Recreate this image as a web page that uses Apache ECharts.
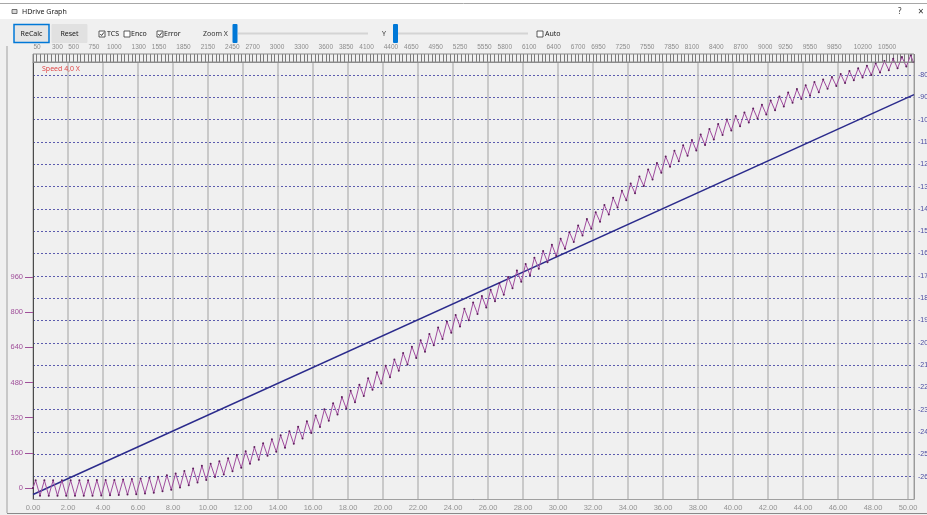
<!DOCTYPE html>
<html>
<head>
<meta charset="utf-8">
<title>HDrive Graph</title>
<script src="https://cdn.jsdelivr.net/npm/echarts@6/dist/echarts.min.js"></script>
<style>
  html, body { margin: 0; padding: 0; background: #f0f0f0; overflow: hidden; }
  #main { width: 927px; height: 515px; }
</style>
</head>
<body>
<div id="main"></div>
<script>
// sample counter shown on the ruler above the plot
const countLabels = [50, 300, 500, 750, 1000, 1300, 1550, 1850, 2150, 2450, 2700, 3000, 3300,
  3600, 3850, 4100, 4400, 4650, 4950, 5250, 5550, 5800, 6100, 6400, 6700, 6950, 7250, 7550,
  7850, 8100, 8400, 8700, 9000, 9250, 9550, 9850, 10200, 10500];

// left axis (speed) labels
const speedLabels = [0, 160, 320, 480, 640, 800, 960];

// speed trace: start, peaks/troughs, end
const speedStart = [0, 0];
const speedEnd = [50.3, 1938];
const swingT0 = 0.15;
const swingStep = 0.25;
const speedSwing = [
  35, -35, 35, -35,  35, -35, 35, -35,  35, -35, 35, -35,  35, -35, 36, -34,
  36, -33, 37, -32,  39, -30, 41, -28,  43, -25, 47, -22,  51, -15, 58, -8,
  66, 2, 77, 13,  89, 25, 101, 37,  110, 50, 122, 62,  135, 76, 150, 92,
  167, 110, 186, 129,  204, 147, 222, 165,  240, 183, 258, 201,  279, 225, 304, 250,
  330, 278, 358, 306,  386, 334, 414, 362,  442, 390, 470, 418,  499, 447, 527, 475,
  556, 504, 585, 533,  614, 562, 643, 591,  672, 620, 701, 649,  730, 678, 758, 706,
  787, 735, 815, 763,  844, 792, 873, 821,  902, 850, 931, 879,  960, 909, 989, 938,
  1019, 968, 1048, 997,  1078, 1027, 1107, 1056,  1134, 1089, 1164, 1119,  1194, 1149, 1224, 1179,
  1255, 1211, 1287, 1244,  1320, 1276, 1352, 1309,  1385, 1341, 1417, 1374,  1449, 1404, 1479, 1434,
  1508, 1461, 1534, 1487,  1559, 1511, 1583, 1535,  1608, 1560, 1633, 1585,  1656, 1606, 1676, 1626,
  1692, 1646, 1708, 1663,  1726, 1681, 1744, 1699,  1763, 1718, 1781, 1736,  1799, 1753, 1815, 1770,
  1832, 1785, 1847, 1800,  1858, 1816, 1870, 1829,  1883, 1842, 1897, 1855,  1909, 1867, 1921, 1879,
  1932, 1890, 1943, 1901,  1953, 1909, 1961, 1917,  1969
];

// straight reference line on the right axis
const targetTimes = [0, 50.34];
const targetValues = [-268, -88.8];

const uiFont = '"Noto Sans", sans-serif';
const axisFont = '"Liberation Sans", sans-serif';
const narrowFont = '"Liberation Sans Narrow", "Liberation Sans", sans-serif';

function buildSpeedData() {
  const pts = [speedStart];
  speedSwing.forEach((v, i) => pts.push([swingT0 + i * swingStep, v]));
  pts.push(speedEnd);
  return pts;
}

function label(text, x, y, opts = {}) {
  return {
    type: 'text', x: x, y: y, z: 100, silent: true,
    style: Object.assign({
      text: text, fill: '#1a1a1a', font: '7px ' + uiFont,
      textVerticalAlign: 'middle', verticalAlign: 'middle'
    }, opts)
  };
}

function checkbox(x, y, checked) {
  const items = [{
    type: 'rect', z: 100, silent: true,
    shape: { x: x, y: y, width: 6, height: 6 },
    style: { fill: '#ffffff', stroke: '#333333', lineWidth: 0.8 }
  }];
  if (checked) {
    items.push({
      type: 'polyline', z: 101, silent: true,
      shape: { points: [[x + 1.3, y + 3], [x + 2.6, y + 4.5], [x + 4.9, y + 1.4]] },
      style: { stroke: '#222222', lineWidth: 0.9, fill: null }
    });
  }
  return items;
}

function chromeGraphics() {
  return [
    { type: 'rect', z: 90, silent: true, shape: { x: 0, y: 0, width: 927, height: 19 }, style: { fill: '#ffffff' } },
    { type: 'line', z: 91, silent: true, shape: { x1: 0, y1: 3.5, x2: 927, y2: 3.5 }, style: { stroke: '#a8a8a8', lineWidth: 1 } },
    { type: 'rect', z: 100, silent: true, shape: { x: 12, y: 9.5, width: 5, height: 4 }, style: { fill: '#d8d8d8', stroke: '#555', lineWidth: 0.8 } },
    label('HDrive Graph', 22, 12),
    label('?', 898, 12, { font: '8px ' + uiFont, fill: '#333' }),
    label('\u00d7', 918, 12, { font: '10px ' + uiFont, fill: '#333' }),

    { type: 'rect', z: 100, silent: true, shape: { x: 14, y: 24.5, width: 35, height: 18 }, style: { fill: '#e5e5e5', stroke: '#0078d7', lineWidth: 1.5 } },
    label('ReCalc', 31.5, 34, { align: 'center', textAlign: 'center' }),
    { type: 'rect', z: 100, silent: true, shape: { x: 52, y: 24.5, width: 35, height: 18 }, style: { fill: '#e1e1e1', stroke: '#e1e1e1', lineWidth: 1 } },
    label('Reset', 69.5, 34, { align: 'center', textAlign: 'center' }),

    ...checkbox(99, 31, true),
    label('TCS', 107, 34),
    ...checkbox(124, 31, false),
    label('Enco', 131, 34),
    ...checkbox(157, 31, true),
    label('Error', 164, 34),

    label('Zoom X', 203, 34, { fill: '#333' }),
    { type: 'line', z: 100, silent: true, shape: { x1: 238, y1: 33.5, x2: 368, y2: 33.5 }, style: { stroke: '#d4d4d4', lineWidth: 2 } },
    { type: 'rect', z: 101, silent: true, shape: { x: 232.5, y: 24, width: 5, height: 19, r: 1 }, style: { fill: '#0078d7' } },
    label('Y', 382, 34, { fill: '#333' }),
    { type: 'line', z: 100, silent: true, shape: { x1: 398, y1: 33.5, x2: 528, y2: 33.5 }, style: { stroke: '#d4d4d4', lineWidth: 2 } },
    { type: 'rect', z: 101, silent: true, shape: { x: 393, y: 24, width: 5, height: 19, r: 1 }, style: { fill: '#0078d7' } },
    ...checkbox(537, 31, false),
    label('Auto', 545, 34),

    { type: 'line', z: 100, silent: true, shape: { x1: 7, y1: 46, x2: 7, y2: 513 }, style: { stroke: '#a0a0a0', lineWidth: 1 } },
    { type: 'line', z: 100, silent: true, shape: { x1: 7, y1: 513.5, x2: 927, y2: 513.5 }, style: { stroke: '#8a8a8a', lineWidth: 1 } },

    { type: 'rect', z: 100, silent: true, shape: { x: 33, y: 54, width: 881, height: 8 }, style: { fill: null, stroke: '#8c8c8c', lineWidth: 1 } },
    label('Speed 4,0 X', 42, 69, { fill: '#e04848', font: '7px ' + uiFont })
  ];
}

const chart = echarts.init(document.getElementById('main'));

chart.setOption({
  animation: false,
  backgroundColor: '#f0f0f0',
  textStyle: { fontFamily: axisFont },
  grid: { left: 33, right: 13, top: 62, bottom: 16, containLabel: false, outerBoundsMode: 'none' },
  xAxis: [
    {
      type: 'value', position: 'bottom', min: 0, max: 50.34, interval: 2,
      axisLine: { show: true, onZero: false, lineStyle: { color: '#a0a0a0' } },
      axisTick: { show: false },
      axisLabel: {
        color: '#949494', fontSize: 7.5, margin: 5, showMaxLabel: false,
        formatter: (v) => v.toFixed(2)
      },
      splitLine: { show: true, lineStyle: { color: '#bdbdbd', width: 1.5 } }
    },
    {
      type: 'value', position: 'top', min: 0, max: 10830, interval: 45,
      axisLine: { show: true, onZero: false, lineStyle: { color: '#8c8c8c' } },
      axisTick: { show: true, length: 8, lineStyle: { color: '#7a7a7a' } },
      axisLabel: {
        customValues: countLabels, color: '#8c8c8c', fontSize: 6.5, margin: 11,
        fontFamily: narrowFont, formatter: (v) => String(v)
      },
      splitLine: { show: false }
    }
  ],
  yAxis: [
    {
      type: 'value', position: 'left', min: -50, max: 1938,
      axisLine: { show: true, onZero: false, lineStyle: { color: '#4a4a4a' } },
      axisTick: { show: true, customValues: speedLabels, length: 8, lineStyle: { color: '#a0509a' } },
      axisLabel: { customValues: speedLabels, color: '#a0509a', fontSize: 7.5, margin: 10 },
      splitLine: { show: false }
    },
    {
      type: 'value', position: 'right', min: -270, max: -74.18, interval: 10,
      axisLine: { show: true, onZero: false, lineStyle: { color: '#9a9a9a' } },
      axisTick: { show: false },
      axisLabel: {
        color: '#4a4aa0', fontSize: 7, margin: 4, fontFamily: narrowFont,
        showMinLabel: false, showMaxLabel: false
      },
      splitLine: { show: true, lineStyle: { color: '#5c5cae', type: [2, 2], width: 1 } }
    }
  ],
  graphic: chromeGraphics(),
  series: [
    {
      name: 'Target', type: 'line', xAxisIndex: 0, yAxisIndex: 1,
      data: targetTimes.map((t, i) => [t, targetValues[i]]),
      showSymbol: false,
      lineStyle: { color: '#2b2b8c', width: 1.5 },
      z: 3
    },
    {
      name: 'Speed', type: 'line', xAxisIndex: 0, yAxisIndex: 0,
      data: buildSpeedData(),
      symbol: 'circle', symbolSize: 2, showSymbol: true,
      itemStyle: { color: '#5e1f5c' },
      lineStyle: { color: '#a04c9e', width: 1 },
      clip: false,
      z: 4
    }
  ]
});
</script>
</body>
</html>
